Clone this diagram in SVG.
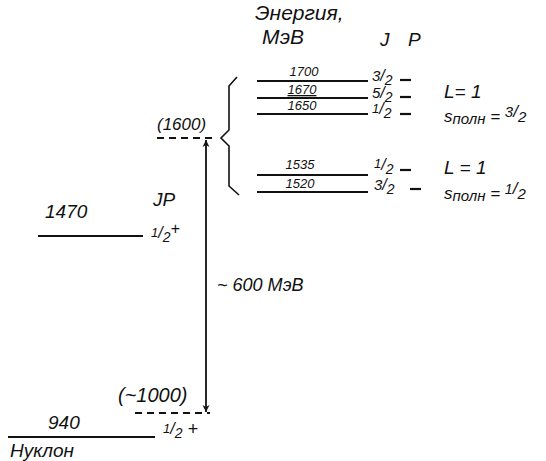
<svg xmlns="http://www.w3.org/2000/svg" width="546" height="461" viewBox="0 0 546 461">
<style>
text{font-family:"Liberation Sans","DejaVu Sans",sans-serif;font-style:italic;fill:#111}
.lv{stroke:#111;stroke-width:2.2;fill:none}
.dash{stroke:#111;stroke-width:2;stroke-dasharray:7,5;fill:none}
.sm{font-size:13px}
.md{font-size:16px}
.lg{font-size:18px}
</style>
<defs>
<marker id="ah" viewBox="0 0 10 10" refX="10" refY="5" markerWidth="7" markerHeight="9" orient="auto-start-reverse" markerUnits="userSpaceOnUse">
<path d="M0,0 L10,5 L0,10 L3,5 Z" fill="#111"/>
</marker>
</defs>
<rect width="546" height="461" fill="#fff"/>
<g id="header">
<text x="255" y="20" font-size="21">Энергия,</text>
<text x="262" y="44" font-size="21">МэВ</text>
<text x="380" y="46" font-size="19">J</text>
<text x="408" y="46" font-size="19">P</text>
</g>
<g id="level1700">
<line class="lv" x1="257" y1="81" x2="368" y2="81"/>
<text x="304" y="76" class="sm" text-anchor="middle">1700</text>
<text x="372" y="84" class="md"><tspan font-size="15" dy="-3">3</tspan><tspan>/</tspan><tspan font-size="14" dy="4">2</tspan></text>
<line class="lv" x1="400" y1="80" x2="411" y2="80" stroke-width="1.6"/>
</g>
<g id="level1670">
<line class="lv" x1="257" y1="98" x2="368" y2="98"/>
<text x="302" y="94" class="sm" text-anchor="middle" text-decoration="underline">1670</text>
<text x="372" y="101" class="md"><tspan font-size="15" dy="-3">5</tspan><tspan>/</tspan><tspan font-size="14" dy="4">2</tspan></text>
<line class="lv" x1="400" y1="97" x2="411" y2="97" stroke-width="1.6"/>
</g>
<g id="level1650">
<line class="lv" x1="257" y1="114" x2="368" y2="114"/>
<text x="302" y="110" class="sm" text-anchor="middle">1650</text>
<text x="372" y="117" class="md"><tspan font-size="13" dy="-4">1</tspan><tspan dy="1">/</tspan><tspan font-size="14" dy="4">2</tspan></text>
<line class="lv" x1="400" y1="114" x2="411" y2="114" stroke-width="1.6"/>
</g>
<g id="level1535">
<line class="lv" x1="257" y1="175" x2="368" y2="175"/>
<text x="300" y="169" class="sm" text-anchor="middle">1535</text>
<text x="374" y="171" class="md"><tspan font-size="13" dy="-3">1</tspan><tspan dy="2">/</tspan><tspan font-size="14" dy="4">2</tspan></text>
<line class="lv" x1="400" y1="170" x2="411" y2="170" stroke-width="1.6"/>
</g>
<g id="level1520">
<line class="lv" x1="257" y1="192" x2="368" y2="192"/>
<text x="300" y="188" class="sm" text-anchor="middle">1520</text>
<text x="374" y="193" class="md"><tspan font-size="15" dy="-3">3</tspan><tspan>/</tspan><tspan font-size="14" dy="4">2</tspan></text>
<line class="lv" x1="410" y1="189" x2="421" y2="189" stroke-width="1.6"/>
</g>
<g id="labels-right">
<text x="444" y="98" font-size="19">L= 1</text>
<text x="444" y="122" font-size="17">s<tspan font-size="15" dy="2">полн</tspan><tspan dy="-2"> = </tspan><tspan font-size="15" dy="-5">3</tspan><tspan>/</tspan><tspan font-size="15" dy="5">2</tspan></text>
<text x="444" y="174" font-size="19">L = 1</text>
<text x="444" y="199" font-size="17">s<tspan font-size="15" dy="2">полн</tspan><tspan dy="-2"> = </tspan><tspan font-size="14" dy="-5">1</tspan><tspan>/</tspan><tspan font-size="15" dy="5">2</tspan></text>
</g>
<g id="brace">
<path d="M237,77 L229,86 L229,130 L221,138 L229,146 L229,186 L239,195" stroke="#111" stroke-width="1.6" fill="none"/>
</g>
<g id="level1600">
<line class="dash" x1="157" y1="138" x2="214" y2="138"/>
<text x="157" y="130" font-size="17">(1600)</text>
</g>
<g id="level1470">
<line class="lv" x1="38" y1="236" x2="143" y2="236"/>
<text x="45" y="218" font-size="19">1470</text>
<text x="153" y="206" font-size="19">JP</text>
<text x="151" y="241" class="md"><tspan font-size="13" dy="-4">1</tspan><tspan dy="1">/</tspan><tspan font-size="14" dy="4">2</tspan><tspan font-size="16" dy="-8">+</tspan></text>
</g>
<g id="level1000">
<line class="dash" x1="135" y1="413" x2="210" y2="413"/>
<text x="118" y="402" font-size="20">(~1000)</text>
</g>
<g id="nucleon">
<line class="lv" x1="8" y1="437" x2="155" y2="437"/>
<text x="48" y="429" font-size="19">940</text>
<text x="10" y="457" font-size="19">Нуклон</text>
<text x="163" y="437" class="md"><tspan font-size="13" dy="-4">1</tspan><tspan dy="1">/</tspan><tspan font-size="14" dy="4">2</tspan><tspan font-size="18" dy="-3"> +</tspan></text>
</g>
<g id="connectors">
<line x1="206" y1="140" x2="206" y2="412" stroke="#111" stroke-width="1.8" marker-start="url(#ah)" marker-end="url(#ah)"/>
<text x="217" y="291" class="lg">~ 600 МэВ</text>
</g>
</svg>
